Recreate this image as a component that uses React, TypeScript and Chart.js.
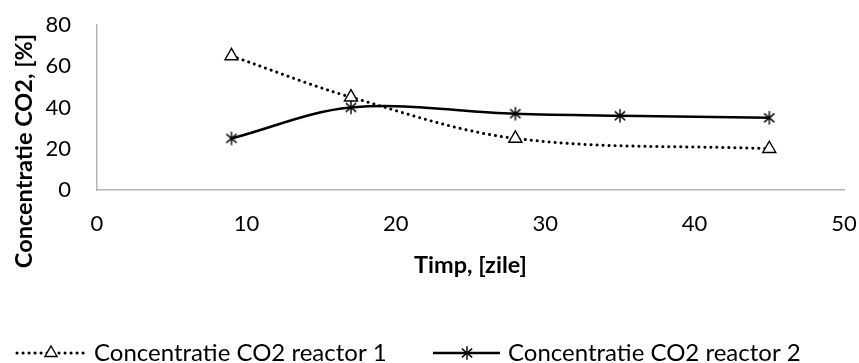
import React, { useEffect, useRef } from 'react';
import { Chart, registerables } from 'chart.js';

Chart.register(...registerables);

// Measurements: days since start vs CO2 concentration (%)
const days1 = [9, 17, 28, 45];
const reactor1 = [65, 45, 25, 20];
const days2 = [9, 17, 28, 35, 45];
const reactor2 = [25, 40, 37, 36, 35];

const xTickValues = [0, 10, 20, 30, 40, 50];
const yTickValues = [0, 20, 40, 60, 80];

const seriesNames = ['Concentratie CO2 reactor 1', 'Concentratie CO2 reactor 2'];
const xTitle = 'Timp, [zile]';
const yTitle = 'Concentratie CO2, [%]';

const FONT = 'Lato, "Noto Sans", sans-serif';
const AXIS_GREY = '#b4b4b4';

// Six-armed asterisk marker used for reactor 2
function makeStar(): HTMLCanvasElement {
  const c = document.createElement('canvas');
  c.width = 16;
  c.height = 16;
  const g = c.getContext('2d')!;
  g.strokeStyle = '#000';
  g.lineWidth = 1.4;
  const cx = 8, cy = 8, r = 6.8;
  const angles = [0, 50, -50];
  g.beginPath();
  for (const a of angles) {
    const rad = (a * Math.PI) / 180;
    const dx = Math.sin(rad) * r, dy = Math.cos(rad) * r;
    g.moveTo(cx - dx, cy - dy);
    g.lineTo(cx + dx, cy + dy);
  }
  g.stroke();
  return c;
}

function drawTriangle(ctx: CanvasRenderingContext2D, x: number, y: number, r: number) {
  ctx.beginPath();
  let rad = 0;
  ctx.moveTo(x + Math.sin(rad) * r, y - Math.cos(rad) * r);
  rad += (2 * Math.PI) / 3;
  ctx.lineTo(x + Math.sin(rad) * r, y - Math.cos(rad) * r);
  rad += (2 * Math.PI) / 3;
  ctx.lineTo(x + Math.sin(rad) * r, y - Math.cos(rad) * r);
  ctx.closePath();
  ctx.fillStyle = '#fff';
  ctx.fill();
  ctx.stroke();
}

// keep the plot area exactly where the layout padding puts it
const noLabelPadding = (scale: any) => {
  scale.paddingLeft = 0;
  scale.paddingRight = 0;
  scale.paddingTop = 0;
  scale.paddingBottom = 0;
};

export default function App() {
  const ref = useRef<HTMLCanvasElement | null>(null);

  useEffect(() => {
    if (!ref.current) return;
    const star = makeStar();

    const titlesAndLegend = {
      id: 'titlesAndLegend',
      afterDraw(chart: Chart) {
        const ctx = chart.ctx;
        const { left, right } = chart.chartArea;
        ctx.save();
        ctx.fillStyle = '#000';

        // axis titles
        ctx.font = `bold 23.5px ${FONT}`;
        ctx.textAlign = 'center';
        ctx.textBaseline = 'middle';
        ctx.fillText(xTitle, (left + right) / 2, 265);
        ctx.save();
        ctx.translate(24, 151);
        ctx.rotate(-Math.PI / 2);
        ctx.fillText(yTitle, 0, 0);
        ctx.restore();

        // legend
        const ly = 353;
        ctx.font = `24px ${FONT}`;
        ctx.textAlign = 'left';

        // item 1: dotted line with open triangle
        ctx.strokeStyle = '#000';
        ctx.lineWidth = 3;
        ctx.lineCap = 'round';
        ctx.setLineDash([0.1, 5.9]);
        ctx.beginPath();
        ctx.moveTo(17, ly);
        ctx.lineTo(85, ly);
        ctx.stroke();
        ctx.setLineDash([]);
        ctx.lineCap = 'butt';
        ctx.lineWidth = 1.4;
        drawTriangle(ctx, 51, ly, 7);
        ctx.fillStyle = '#000';
        ctx.fillText(seriesNames[0], 94, ly);

        // item 2: solid line with asterisk
        ctx.lineWidth = 2.5;
        ctx.beginPath();
        ctx.moveTo(433, ly);
        ctx.lineTo(500, ly);
        ctx.stroke();
        ctx.drawImage(star, 467 - star.width / 2, ly - star.height / 2);
        ctx.fillText(seriesNames[1], 508, ly);

        ctx.restore();
      },
    };

    const chart = new Chart(ref.current, {
      type: 'line',
      data: {
        datasets: [
          {
            label: seriesNames[0],
            data: days1.map((d, i) => ({ x: d, y: reactor1[i] })),
            borderColor: '#000',
            borderWidth: 3,
            borderDash: [0.1, 5.9],
            borderCapStyle: 'round',
            tension: 0.35,
            pointStyle: 'triangle',
            pointRadius: 7.5,
            pointBorderWidth: 1.4,
            pointBorderColor: '#000',
            pointBackgroundColor: '#fff',
          },
          {
            label: seriesNames[1],
            data: days2.map((d, i) => ({ x: d, y: reactor2[i] })),
            borderColor: '#000',
            borderWidth: 2.5,
            tension: 0.35,
            pointStyle: star,
            pointRadius: 7,
            pointBorderColor: '#000',
            pointBackgroundColor: '#000',
          },
        ],
      },
      options: {
        responsive: false,
        animation: false,
        devicePixelRatio: 1,
        layout: { padding: { left: 0, top: 25, right: 15, bottom: 0 } },
        plugins: {
          legend: { display: false },
          tooltip: { enabled: false },
        },
        scales: {
          x: {
            type: 'linear',
            min: 0,
            max: 50,
            afterBuildTicks: (scale: any) => {
              scale.ticks = xTickValues.map((v) => ({ value: v }));
            },
            afterFit: (scale: any) => {
              scale.height = 173;
              noLabelPadding(scale);
            },
            grid: { display: false, drawTicks: false },
            border: { display: true, color: AXIS_GREY, width: 1.5 },
            ticks: { color: '#000', font: { family: FONT, size: 22 }, padding: 21, maxRotation: 0 },
          },
          y: {
            type: 'linear',
            min: 0,
            max: 80,
            afterBuildTicks: (scale: any) => {
              scale.ticks = yTickValues.map((v) => ({ value: v }));
            },
            afterFit: (scale: any) => {
              scale.width = 97;
              noLabelPadding(scale);
            },
            grid: { display: false, drawTicks: false },
            border: { display: true, color: AXIS_GREY, width: 1.5 },
            ticks: { color: '#000', font: { family: FONT, size: 22 }, padding: 26 },
          },
        },
      },
      plugins: [titlesAndLegend],
    } as any);

    return () => chart.destroy();
  }, []);

  return (
    <div style={{ position: 'fixed', left: 0, top: 0, width: 859, height: 363, background: '#fff' }}>
      <canvas ref={ref} width={859} height={363} style={{ display: 'block' }} />
    </div>
  );
}
